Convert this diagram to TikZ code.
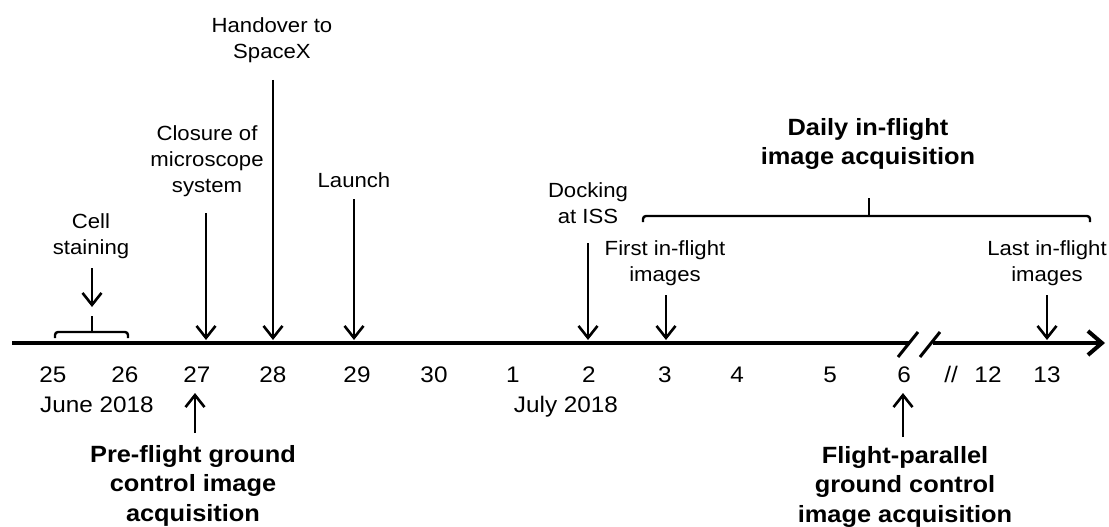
\documentclass[tikz,border=0pt]{standalone}
\usepackage{fontspec}
\setmainfont{Liberation Sans}[FakeStretch=1.08]
\usetikzlibrary{arrows.meta}
\begin{document}
\begin{tikzpicture}[x=1pt,y=-1pt,
  lbl/.style={font=\fontsize{20.5}{26}\selectfont, align=center, anchor=north, inner sep=0pt},
  blbl/.style={font=\bfseries\fontsize{23.5}{29.5}\selectfont, align=center, anchor=north, inner sep=0pt},
  datelbl/.style={font=\fontsize{22.5}{26}\selectfont, anchor=base, inner sep=0pt},
  evt/.style={line width=2.6pt, -{Straight Barb[length=12pt,width=19pt]}},
  axisline/.style={line width=4pt},
  bracket/.style={line width=2.4pt, rounded corners=3pt},
  slash/.style={line width=3pt}]
\useasboundingbox (0,0) rectangle (1109,527);

% axis
\coordinate (ax0) at (12,343);
\coordinate (ax1) at (910,343);
\coordinate (ax2) at (933,343);
\coordinate (ax3) at (1105,343);
\draw[axisline] (ax0) -- (ax1);
\draw[axisline, -{Straight Barb[length=14pt,width=24pt]}] (ax2) -- (ax3);
\coordinate (s1a) at (898,357); \coordinate (s1b) at (918,332);
\coordinate (s2a) at (920,357); \coordinate (s2b) at (940,332);
\draw[slash] (s1a) -- (s1b);
\draw[slash] (s2a) -- (s2b);

% dates
\node[datelbl] (d25) at (53,382) {25};
\node[datelbl] (d26) at (125,382) {26};
\node[datelbl] (d27) at (197,382) {27};
\node[datelbl] (d28) at (273,382) {28};
\node[datelbl] (d29) at (357,382) {29};
\node[datelbl] (d30) at (434,382) {30};
\node[datelbl] (d1) at (513,382) {1};
\node[datelbl] (d2) at (589,382) {2};
\node[datelbl] (d3) at (665,382) {3};
\node[datelbl] (d4) at (737,382) {4};
\node[datelbl] (d5) at (830,382) {5};
\node[datelbl] (d6) at (904,382) {6};
\node[datelbl] (dbrk) at (951,382) {//};
\node[datelbl] (d12) at (988,382) {12};
\node[datelbl] (d13) at (1047,382) {13};
\node[datelbl] (june) at (97,412) {June 2018};
\node[datelbl] (july) at (566,412) {July 2018};

% event labels
\node[lbl] (cell) at (91,213) {Cell\\staining};
\node[lbl] (closure) at (207,125) {Closure of\\microscope\\system};
\node[lbl] (handover) at (272,17) {Handover to\\SpaceX};
\node[lbl] (launch) at (354,172) {Launch};
\node[lbl] (docking) at (588,182) {Docking\\at ISS};
\node[lbl] (first) at (665,240) {First in-flight\\images};
\node[lbl] (last) at (1047,240) {Last in-flight\\images};
\node[blbl] (daily) at (868,118) {Daily in-flight\\image acquisition};
\node[blbl] (pre) at (193,445) {Pre-flight ground\\control image\\acquisition};
\node[blbl] (par) at (905,446) {Flight-parallel\\ground control\\image acquisition};

% arrows
\coordinate (cellA) at (92,268);  \coordinate (cellB) at (92,307);
\coordinate (clA) at (206,213);   \coordinate (clB) at (206,340);
\coordinate (hoA) at (273,80);    \coordinate (hoB) at (273,340);
\coordinate (laA) at (354,199);   \coordinate (laB) at (354,340);
\coordinate (doA) at (588,243);   \coordinate (doB) at (588,340);
\coordinate (fiA) at (666,295);   \coordinate (fiB) at (666,340);
\coordinate (lsA) at (1047,295);  \coordinate (lsB) at (1047,340);
\coordinate (prA) at (195,433);   \coordinate (prB) at (195,393);
\coordinate (paA) at (903,437);   \coordinate (paB) at (903,393);
\draw[evt] (cellA) -- (cellB);
\draw[evt] (clA) -- (clB);
\draw[evt] (hoA) -- (hoB);
\draw[evt] (laA) -- (laB);
\draw[evt] (doA) -- (doB);
\draw[evt] (fiA) -- (fiB);
\draw[evt] (lsA) -- (lsB);
\draw[evt] (prA) -- (prB);
\draw[evt] (paA) -- (paB);

% brackets
\draw[bracket] (55,338) -- (55,332) -- (128,332) -- (128,338);
\coordinate (cbT) at (92,316); \coordinate (cbB) at (92,332);
\draw[line width=2.2pt] (cbB) -- (cbT);
\draw[bracket] (643,222) -- (643,216) -- (1090,216) -- (1090,222);
\coordinate (dbT) at (869,198); \coordinate (dbB) at (869,216);
\draw[line width=2.2pt] (dbB) -- (dbT);
\end{tikzpicture}
\end{document}
